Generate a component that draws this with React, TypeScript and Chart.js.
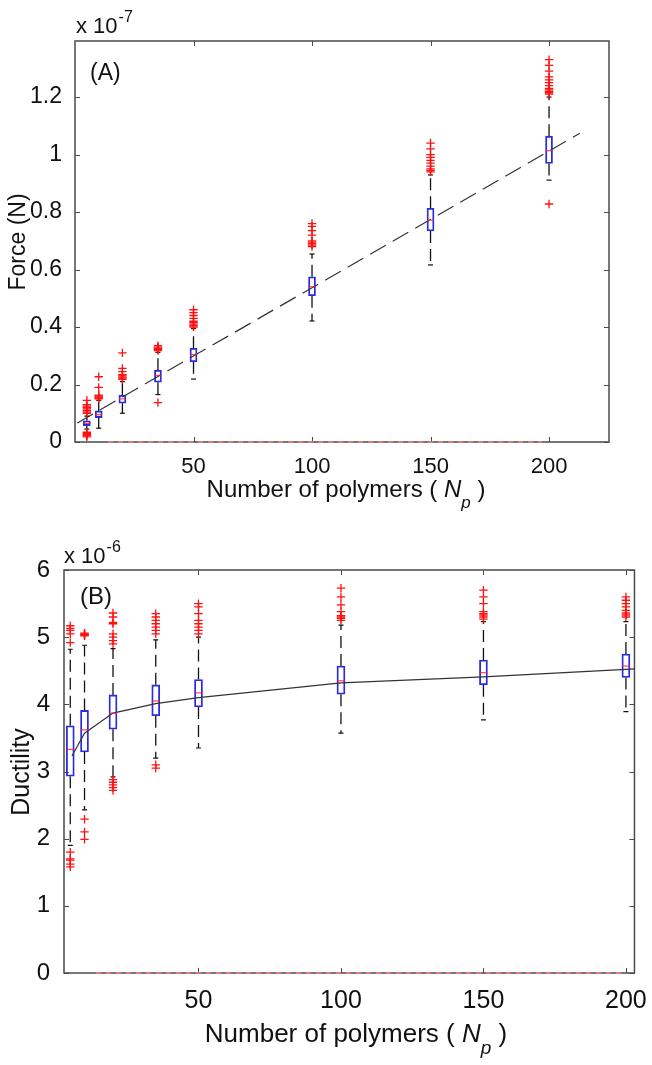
import React, { useEffect, useRef } from "react";
import { Chart, registerables } from "chart.js";
Chart.register(...registerables);

const FONT = "'Liberation Sans', Arial, Helvetica, sans-serif";

// ---------- Panel A : Force (x 1e-7 N) ----------
const polymersA = [5, 10, 20, 35, 50, 100, 150, 200];
const forceQ1 = [0.057, 0.085, 0.135, 0.208, 0.279, 0.509, 0.734, 0.969];
const forceMedian = [0.065, 0.095, 0.15, 0.232, 0.304, 0.54, 0.772, 1.013];
const forceQ3 = [0.074, 0.108, 0.163, 0.25, 0.326, 0.575, 0.813, 1.064];
const forceWhiskerLow = [0.045, 0.048, 0.1, 0.165, 0.219, 0.421, 0.616, 0.911];
const forceWhiskerHigh = [0.09, 0.145, 0.21, 0.312, 0.395, 0.654, 0.929, 1.2];
const forceOutliers = [
  [0.018, 0.022, 0.026, 0.03, 0.034, 0.1, 0.105, 0.11, 0.115, 0.12, 0.125, 0.13, 0.145],
  [0.15, 0.153, 0.156, 0.16, 0.163, 0.19, 0.227],
  [0.218, 0.222, 0.226, 0.23, 0.234, 0.245, 0.256, 0.31],
  [0.137, 0.318, 0.322, 0.326, 0.33, 0.335],
  [0.4, 0.405, 0.41, 0.415, 0.42, 0.43, 0.44, 0.45, 0.46],
  [0.68, 0.685, 0.69, 0.695, 0.7, 0.72, 0.735, 0.75, 0.76],
  [0.94, 0.945, 0.95, 0.96, 0.97, 0.98, 0.99, 1.0, 1.02, 1.04],
  [0.828, 1.21, 1.215, 1.22, 1.225, 1.23, 1.24, 1.25, 1.26, 1.27, 1.29, 1.31, 1.33],
];
const forceFitX = [1, 213];
const forceFitY = [0.066, 1.074];
const forceYTicks = [0, 0.2, 0.4, 0.6, 0.8, 1, 1.2];
const forceAxisDash = [14, 197];

// ---------- Panel B : Ductility (x 1e-6) ----------
const polymersB = [5, 10, 20, 35, 50, 100, 150, 200];
const ductQ1 = [2.93, 3.29, 3.63, 3.83, 3.96, 4.15, 4.29, 4.4];
const ductMedian = [3.33, 3.62, 3.87, 4.05, 4.17, 4.35, 4.47, 4.57];
const ductQ3 = [3.68, 3.91, 4.14, 4.29, 4.37, 4.57, 4.66, 4.75];
const ductWhiskerLow = [1.9, 2.43, 2.92, 3.2, 3.35, 3.57, 3.77, 3.89];
const ductWhiskerHigh = [4.82, 4.88, 4.83, 4.96, 5.0, 5.18, 5.23, 5.23];
const ductOutliers = [
  [1.58, 1.62, 1.68, 1.7, 1.8, 4.92, 5.05, 5.1, 5.13, 5.17],
  [1.99, 2.1, 2.29, 5.02, 5.03, 5.04, 5.05, 5.06],
  [2.72, 2.76, 2.8, 2.84, 2.88, 4.9, 4.95, 5.0, 5.05, 5.2, 5.22, 5.3, 5.36],
  [3.05, 3.1, 5.05, 5.1, 5.15, 5.2, 5.25, 5.3, 5.35],
  [5.05, 5.1, 5.15, 5.2, 5.25, 5.35, 5.45, 5.5],
  [5.25, 5.28, 5.3, 5.32, 5.38, 5.48, 5.6, 5.73],
  [5.27, 5.3, 5.33, 5.35, 5.38, 5.5, 5.6, 5.7],
  [5.3, 5.33, 5.36, 5.4, 5.45, 5.5, 5.55, 5.6],
];
const ductFitX = [5.6, 10, 20, 35, 50, 100, 150, 200, 204];
const ductFitY = [3.23, 3.57, 3.87, 4.01, 4.1, 4.32, 4.41, 4.52, 4.53];
const ductYTicks = [0, 1, 2, 3, 4, 5, 6];
const ductAxisDash = [14, 200];

const npTicks = [50, 100, 150, 200];

type Panel = {
  np: number[]; q1: number[]; med: number[]; q3: number[];
  wLo: number[]; wHi: number[]; out: number[][];
  fitX: number[]; fitY: number[]; fitDash: number[];
  yTicks: number[]; yMax: number; xMin: number; xMax: number;
  axisDash: number[];
  boxW: number;
  height: number;
  pad: { top: number; right: number };
  yAxisW: number; xAxisH: number;
  yTickSize: number; xTickSize: number; yPad: number; xPad: number;
  letter: string; letterPos: [number, number]; letterSize: number;
  expo: string; expoPos: [number, number];
  yTitle: string; yTitleSize: number; yTitlePos: [number, number];
  xTitleSize: number; xTitlePos: [number, number];
};

const panelA: Panel = {
  np: polymersA, q1: forceQ1, med: forceMedian, q3: forceQ3,
  wLo: forceWhiskerLow, wHi: forceWhiskerHigh, out: forceOutliers,
  fitX: forceFitX, fitY: forceFitY, fitDash: [18, 8],
  yTicks: forceYTicks, yMax: 1.395, xMin: 0, xMax: 225.3,
  axisDash: forceAxisDash,
  boxW: 7, height: 520, pad: { top: 41, right: 43 }, yAxisW: 75, xAxisH: 78,
  yTickSize: 23, xTickSize: 22, yPad: 5, xPad: 4,
  letter: "(A)", letterPos: [90, 80], letterSize: 23,
  expo: "-7", expoPos: [76, 33],
  yTitle: "Force (N)", yTitleSize: 23, yTitlePos: [25, 242],
  xTitleSize: 24, xTitlePos: [346, 497],
};

const panelB: Panel = {
  np: polymersB, q1: ductQ1, med: ductMedian, q3: ductQ3,
  wLo: ductWhiskerLow, wHi: ductWhiskerHigh, out: ductOutliers,
  fitX: ductFitX, fitY: ductFitY, fitDash: [],
  yTicks: ductYTicks, yMax: 6, xMin: 2.8, xMax: 203,
  axisDash: ductAxisDash,
  boxW: 8, height: 545, pad: { top: 50, right: 15 }, yAxisW: 64, xAxisH: 92,
  yTickSize: 24, xTickSize: 25, yPad: 6, xPad: 5,
  letter: "(B)", letterPos: [80, 84], letterSize: 24,
  expo: "-6", expoPos: [64, 43],
  yTitle: "Ductility", yTitleSize: 25, yTitlePos: [29, 252],
  xTitleSize: 26, xTitlePos: [356, 522],
};

const framePlugin = {
  id: "frame",
  beforeDatasetsDraw(chart: any) {
    const { ctx, chartArea, scales } = chart;
    const { left, right, top, bottom } = chartArea;
    ctx.save();
    ctx.strokeStyle = "#4a4a4a";
    ctx.lineWidth = 1.5;
    ctx.strokeRect(left, top, right - left, bottom - top);
    ctx.lineWidth = 1;
    const tl = 5;
    ctx.beginPath();
    scales.x.ticks.forEach((t: any) => {
      const px = Math.round(scales.x.getPixelForValue(t.value)) + 0.5;
      ctx.moveTo(px, bottom); ctx.lineTo(px, bottom - tl);
      ctx.moveTo(px, top); ctx.lineTo(px, top + tl);
    });
    scales.y.ticks.forEach((t: any) => {
      const py = Math.round(scales.y.getPixelForValue(t.value)) + 0.5;
      ctx.moveTo(left, py); ctx.lineTo(left + tl, py);
      ctx.moveTo(right, py); ctx.lineTo(right - tl, py);
    });
    ctx.stroke();
    ctx.restore();
  },
};

function makeTextPlugin(p: Panel) {
  return {
    id: "texts",
    afterDraw(chart: any) {
      const ctx = chart.ctx;
      ctx.save();
      ctx.fillStyle = "#111";
      ctx.textBaseline = "alphabetic";
      ctx.font = `${p.letterSize}px ${FONT}`;
      ctx.textAlign = "left";
      ctx.fillText(p.letter, p.letterPos[0], p.letterPos[1]);
      ctx.font = `22px ${FONT}`;
      const base = "x 10";
      ctx.fillText(base, p.expoPos[0], p.expoPos[1]);
      const bw = ctx.measureText(base).width;
      ctx.font = `16px ${FONT}`;
      ctx.fillText(p.expo, p.expoPos[0] + bw + 1, p.expoPos[1] - 11);
      ctx.save();
      ctx.translate(p.yTitlePos[0], p.yTitlePos[1]);
      ctx.rotate(-Math.PI / 2);
      ctx.font = `${p.yTitleSize}px ${FONT}`;
      ctx.textAlign = "center";
      ctx.fillText(p.yTitle, 0, 0);
      ctx.restore();
      const s = p.xTitleSize;
      const parts = [
        { t: "Number of polymers ( ", f: `${s}px ${FONT}`, dy: 0 },
        { t: "N", f: `italic ${s}px ${FONT}`, dy: 0 },
        { t: "p", f: `italic ${Math.round(s * 0.72)}px ${FONT}`, dy: Math.round(s * 0.45) },
        { t: " )", f: `${s}px ${FONT}`, dy: 0 },
      ];
      let total = 0;
      const widths = parts.map((q) => { ctx.font = q.f; const w = ctx.measureText(q.t).width; total += w; return w; });
      let x = p.xTitlePos[0] - total / 2;
      ctx.textAlign = "left";
      parts.forEach((q, i) => {
        ctx.font = q.f;
        ctx.fillText(q.t, x, p.xTitlePos[1] + q.dy);
        x += widths[i];
      });
      ctx.restore();
    },
  };
}

function fmt(v: number) {
  return String(+v.toFixed(2));
}

function buildConfig(p: Panel): any {
  const boxes = p.np.map((x, i) => ({ x, y: [p.q1[i], p.q3[i]] }));
  const whiskers: any[] = [];
  p.np.forEach((x, i) => {
    whiskers.push({ x, y: p.q3[i] }, { x, y: p.wHi[i] }, { x, y: null });
    whiskers.push({ x, y: p.q1[i] }, { x, y: p.wLo[i] }, { x, y: null });
  });
  const caps: any[] = [];
  p.np.forEach((x, i) => { caps.push({ x, y: p.wLo[i] }, { x, y: p.wHi[i] }); });
  const medians = p.np.map((x, i) => ({ x, y: p.med[i] }));
  const outliers: any[] = [];
  p.np.forEach((x, i) => p.out[i].forEach((v) => outliers.push({ x, y: v })));
  const fit = p.fitX.map((x, i) => ({ x, y: p.fitY[i] }));
  const dash = p.axisDash.map((x) => ({ x, y: 0 }));

  return {
    type: "scatter",
    data: {
      datasets: [
        {
          label: "outliers", data: outliers, pointStyle: "cross", pointRadius: 4.2,
          pointBorderColor: "#ff1010", pointBorderWidth: 1.3, showLine: false,
        },
        {
          label: "median", data: medians, pointStyle: "line", pointRadius: p.boxW / 2,
          pointBorderColor: "#ff2020", pointBorderWidth: 1, showLine: false,
        },
        {
          label: "caps", data: caps, pointStyle: "line", pointRadius: 2.5,
          pointBorderColor: "#111", pointBorderWidth: 1.2, showLine: false,
        },
        {
          type: "line", label: "fit", data: fit, borderColor: "#333", borderWidth: 1.2,
          borderDash: p.fitDash, pointRadius: 0, tension: 0, fill: false,
        },
        {
          type: "bar", label: "boxes", data: boxes, backgroundColor: "rgba(255,255,255,0)",
          borderColor: "#2a2ae0", borderWidth: 1.2, borderSkipped: false, barThickness: p.boxW,
        },
        {
          type: "line", label: "whiskers", data: whiskers, borderColor: "#111", borderWidth: 1.3,
          borderDash: [12, 6], pointRadius: 0, spanGaps: false, tension: 0, fill: false,
        },
        {
          type: "line", label: "axis", data: dash, borderColor: "#f07a7a", borderWidth: 1.8,
          borderDash: [5, 5], pointRadius: 0, clip: false, fill: false,
        },
      ],
    },
    options: {
      responsive: false,
      animation: false,
      events: [],
      layout: { padding: { top: p.pad.top, right: p.pad.right, left: 0, bottom: 0 } },
      plugins: { legend: { display: false }, tooltip: { enabled: false }, title: { display: false } },
      scales: {
        x: {
          type: "linear", min: p.xMin, max: p.xMax, offset: false,
          grid: { display: false }, border: { display: false },
          afterBuildTicks: (s: any) => { s.ticks = npTicks.map((v) => ({ value: v })); },
          afterFit: (s: any) => { s.height = p.xAxisH; },
          ticks: {
            autoSkip: false, maxRotation: 0, padding: p.xPad, color: "#111",
            font: { family: FONT, size: p.xTickSize }, callback: (v: any) => fmt(Number(v)),
          },
        },
        y: {
          type: "linear", min: 0, max: p.yMax,
          grid: { display: false }, border: { display: false },
          afterBuildTicks: (s: any) => { s.ticks = p.yTicks.map((v) => ({ value: v })); },
          afterFit: (s: any) => { s.width = p.yAxisW; },
          ticks: {
            autoSkip: false, padding: p.yPad, color: "#111",
            font: { family: FONT, size: p.yTickSize }, callback: (v: any) => fmt(Number(v)),
          },
        },
      },
    },
    plugins: [framePlugin, makeTextPlugin(p)],
  };
}

function PanelChart({ p, top }: { p: Panel; top: number }) {
  const ref = useRef<HTMLCanvasElement | null>(null);
  useEffect(() => {
    if (!ref.current) return;
    const chart = new Chart(ref.current, buildConfig(p));
    return () => chart.destroy();
  }, [p]);
  return (
    <canvas
      ref={ref}
      width={652}
      height={p.height}
      style={{ position: "absolute", left: 0, top, width: 652, height: p.height }}
    />
  );
}

export default function App() {
  return (
    <div style={{ position: "absolute", left: 0, top: 0, width: 652, height: 1065, background: "#fff" }}>
      <PanelChart p={panelA} top={0} />
      <PanelChart p={panelB} top={520} />
    </div>
  );
}
